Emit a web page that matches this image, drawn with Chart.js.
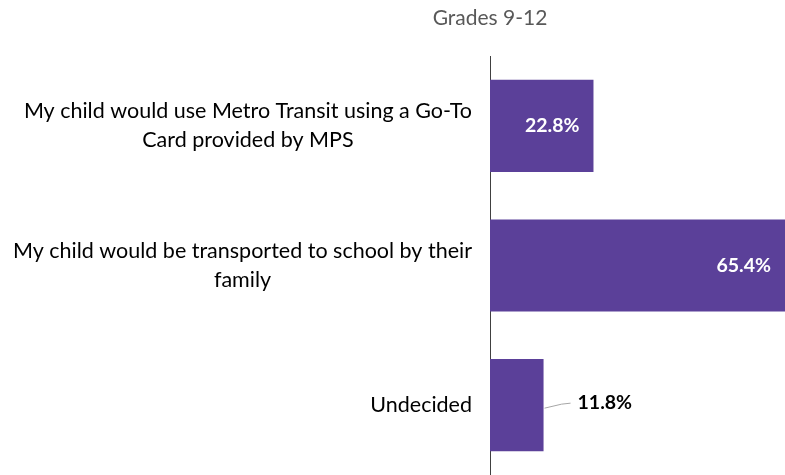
<!DOCTYPE html>
<html>
<head>
<meta charset="utf-8">
<script src="https://cdn.jsdelivr.net/npm/chart.js@4"></script>
<style>
  html, body { margin: 0; padding: 0; background: #fff; }
  #wrap { width: 785px; height: 475px; }
</style>
</head>
<body>
<div id="wrap"><canvas id="c" width="785" height="475"></canvas></div>
<script>
// data
const chartTitle = 'Grades 9-12';
const categories = [
  ['My child would use Metro Transit using a Go-To', 'Card provided by MPS'],
  ['My child would be transported to school by their', 'family'],
  ['Undecided']
];
const shares = [22.8, 65.4, 11.8];
const labelInside = [true, true, false];

const FONT = 'Lato, "Open Sans", sans-serif';
const PURPLE = '#5B4099';

// category labels, title and value labels drawn by hand
const decorPlugin = {
  id: 'decor',
  afterDatasetsDraw(chart) {
    const ctx = chart.ctx;
    const area = chart.chartArea;
    const yScale = chart.scales.y;
    const meta = chart.getDatasetMeta(0);

    ctx.save();
    // title over the axis
    ctx.fillStyle = '#595959';
    ctx.font = '21px ' + FONT;
    ctx.textAlign = 'center';
    ctx.textBaseline = 'middle';
    ctx.fillText(chartTitle, area.left, 18);

    // category labels: block right aligned, lines centred
    ctx.font = '21.5px ' + FONT;
    ctx.fillStyle = '#000';
    const lineH = 29;
    categories.forEach((lines, i) => {
      const yc = yScale.getPixelForValue(i);
      const widest = Math.max(...lines.map(l => ctx.measureText(l).width));
      const cx = area.left - 18 - widest / 2;
      lines.forEach((l, k) => {
        const y = yc + (k - (lines.length - 1) / 2) * lineH;
        ctx.fillText(l, cx, y);
      });
    });

    // value labels
    ctx.font = 'bold 19.5px ' + FONT;
    meta.data.forEach((bar, i) => {
      const txt = shares[i].toFixed(1) + '%';
      if (labelInside[i]) {
        ctx.fillStyle = '#fff';
        ctx.textAlign = 'right';
        ctx.fillText(txt, Math.min(bar.x, area.right) - 14, bar.y);
      } else {
        ctx.strokeStyle = '#A6A6A6';
        ctx.lineWidth = 1;
        ctx.beginPath();
        ctx.moveTo(bar.x + 1, bar.y + 3);
        ctx.lineTo(bar.x + 18, bar.y - 1);
        ctx.lineTo(bar.x + 27, bar.y - 2);
        ctx.stroke();
        ctx.fillStyle = '#000';
        ctx.textAlign = 'left';
        ctx.fillText(txt, bar.x + 34, bar.y - 2);
      }
    });
    ctx.restore();
  }
};

new Chart(document.getElementById('c'), {
  type: 'bar',
  data: {
    labels: categories,
    datasets: [{
      data: shares,
      backgroundColor: PURPLE,
      borderWidth: 0,
      categoryPercentage: 1,
      barPercentage: 0.66
    }]
  },
  options: {
    indexAxis: 'y',
    responsive: false,
    animation: false,
    layout: { padding: { left: 490, top: 56, right: 0, bottom: 0 } },
    plugins: {
      legend: { display: false },
      title: { display: false },
      tooltip: { enabled: false }
    },
    scales: {
      x: {
        display: false,
        min: 0,
        max: 65
      },
      y: {
        ticks: { display: false },
        grid: { display: false, drawTicks: false },
        border: { display: true, color: '#404040', width: 1 }
      }
    }
  },
  plugins: [decorPlugin]
});
</script>
</body>
</html>
